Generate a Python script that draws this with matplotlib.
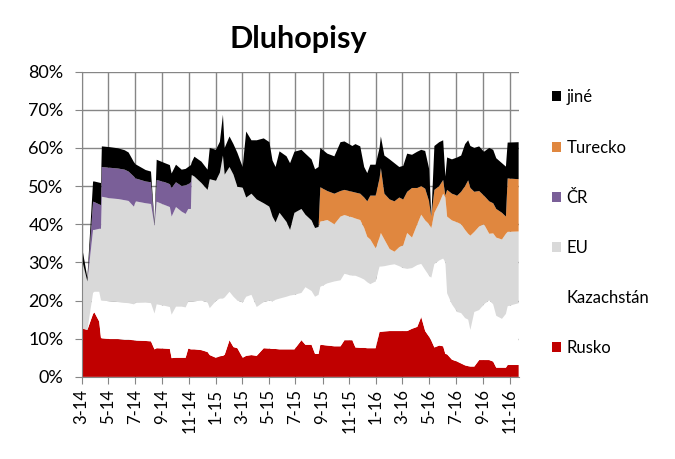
import numpy as np
import pandas as pd
import matplotlib
matplotlib.use("Agg")
import matplotlib.pyplot as plt
import matplotlib.dates as mdates
from matplotlib.patches import Patch

plt.rcParams['font.family'] = ['Lato', 'DejaVu Sans']

# shares of bond holdings by country (% of total)
dates = ['2014-03-01', '2014-03-14', '2014-03-27', '2014-03-30', '2014-04-10', '2014-04-14',
         '2014-04-16', '2014-05-04', '2014-05-23', '2014-06-07', '2014-06-16', '2014-06-28',
         '2014-07-02', '2014-07-25', '2014-08-06', '2014-08-14', '2014-08-19', '2014-09-07',
         '2014-09-18', '2014-09-22', '2014-10-02', '2014-10-15', '2014-10-24', '2014-10-30',
         '2014-11-05', '2014-11-07',
         '2014-11-13', '2014-11-29', '2014-12-13', '2014-12-18', '2015-01-01', '2015-01-10',
         '2015-01-17', '2015-01-21', '2015-02-01', '2015-02-10', '2015-02-19', '2015-03-03',
         '2015-03-11', '2015-03-23', '2015-04-04', '2015-04-20', '2015-05-03', '2015-05-10',
         '2015-05-17', '2015-05-26', '2015-06-11', '2015-06-19', '2015-06-29', '2015-07-15',
         '2015-07-24', '2015-08-07', '2015-08-15', '2015-08-23',
         '2015-08-27', '2015-09-12', '2015-09-28', '2015-10-12', '2015-10-21', '2015-11-08',
         '2015-11-15', '2015-11-26', '2015-12-05', '2015-12-12', '2015-12-19', '2015-12-31',
         '2016-01-09', '2016-01-12', '2016-01-20', '2016-02-01', '2016-02-12', '2016-02-23',
         '2016-03-03', '2016-03-12', '2016-03-23', '2016-04-04', '2016-04-13', '2016-04-22',
         '2016-05-01', '2016-05-06', '2016-05-13', '2016-05-24', '2016-06-02', '2016-06-07',
         '2016-06-11', '2016-06-22', '2016-07-04', '2016-07-13', '2016-07-22', '2016-07-29',
         '2016-08-03', '2016-08-12', '2016-08-23', '2016-09-03', '2016-09-15', '2016-09-24',
         '2016-10-01', '2016-10-14', '2016-10-23', '2016-10-27', '2016-11-21']

rusko = [12.7, 12.3, 16.5, 16.9, 14.5, 10.2, 10.1, 9.9, 9.9, 9.7, 9.7, 9.6,
         9.5, 9.4, 9.3, 7.2, 7.5, 7.4, 7.3, 4.9, 5.0, 5.0, 5.0, 7.4, 7.2, 7.2,
         7.2, 7.0, 6.5, 5.7, 5.0, 5.4, 5.5, 5.8, 9.6, 7.8, 7.5, 5.0,
         5.5, 5.7, 5.5, 7.5, 7.4, 7.3, 7.3, 7.2, 7.2, 7.2, 7.2, 9.6,
         8.4, 8.4, 6.0, 6.0,
         8.4, 8.2, 8.0, 8.0, 9.6, 9.6, 7.7, 7.6, 7.6, 7.5, 7.5, 7.5,
         11.8, 11.8, 11.9, 12.0, 12.0, 12.0, 12.0, 12.0, 12.6, 13.1, 15.7, 12.0,
         10.5, 9.5, 7.7, 8.2, 8.0, 6.0, 5.9, 4.5, 4.0, 3.5, 3.0, 2.8,
         2.7, 2.7, 4.4, 4.4, 4.4, 4.0, 2.4, 2.4, 2.4, 3.1, 3.1]

kazachstan = [0.0, 0.0, 5.5, 5.4, 7.8, 9.9, 9.9, 9.9, 9.7, 9.7, 9.6, 9.4,
              9.9, 10.1, 10.0, 9.4, 11.5, 11.2, 11.0, 11.4, 13.4, 13.4, 13.2, 12.3, 12.5, 12.5,
              12.6, 13.0, 13.0, 12.3, 14.9, 15.1, 15.0, 15.0, 12.7, 13.2, 12.5, 14.5,
              15.5, 15.8, 12.8, 12.1, 12.6, 12.5, 12.9, 13.3, 13.8, 14.1, 14.3, 12.4,
              15.1, 14.1, 15.0, 15.5,
              15.2, 16.3, 17.0, 17.3, 17.4, 16.9, 18.8, 18.4, 17.9, 17.3, 16.8, 17.5,
              17.1, 17.1, 17.1, 17.3, 17.5, 17.0, 16.5, 16.3, 15.9, 16.2, 13.9, 16.0,
              16.0, 16.5, 21.9, 22.3, 23.0, 24.0, 16.0, 14.5, 13.0, 13.2, 12.4, 12.2,
              9.6, 14.3, 13.1, 14.6, 15.7, 15.0, 13.6, 12.8, 14.1, 15.4, 16.2]

eu = [18.3, 12.7, 16.5, 16.2, 16.5, 18.7, 27.2, 27.0, 27.0, 26.9, 26.8, 25.6,
      26.6, 26.0, 26.0, 22.9, 26.9, 26.4, 26.2, 25.7, 26.1, 24.9, 24.5, 24.3, 24.3, 33.2,
      32.7, 30.8, 29.5, 33.8, 31.5, 33.0, 37.5, 32.2, 32.7, 32.0, 29.8, 30.1,
      26.0, 26.5, 28.2, 25.9, 24.6, 22.2, 20.3, 22.5, 19.6, 17.2, 21.5, 22.0,
      19.0, 18.5, 18.0, 17.8,
      17.1, 16.6, 15.0, 16.7, 15.4, 15.3, 15.0, 15.1, 13.5, 11.9, 11.7, 8.7,
      7.6, 8.8, 7.0, 4.2, 3.3, 5.0, 6.0, 9.4, 8.0, 10.7, 12.9, 13.0,
      13.5, 13.0, 13.4, 15.0, 17.0, 17.0, 20.1, 22.0, 23.5, 23.3, 23.1, 22.5,
      24.7, 21.0, 21.9, 21.0, 17.4, 18.6, 20.5, 20.8, 21.0, 19.5, 18.8]

cr = [0.0, 0.0, 7.4, 7.3, 6.4, 6.2, 7.8, 8.0, 8.0, 8.0, 7.7, 7.9,
      6.0, 5.7, 5.7, 0.3, 5.7, 6.0, 6.0, 7.5, 6.5, 6.7, 7.5, 6.5, 7.0, 0.0] + [0.0] * 75

turecko = [0.0] * 54 + [
    9.0, 7.6, 8.0, 6.7, 6.6, 6.7, 6.8, 6.9, 8.0, 9.3, 11.5, 13.8,
    15.5, 17.0, 12.0, 13.0, 13.2, 13.0, 12.0, 10.8, 13.0, 9.5, 7.5, 8.3,
    6.0, 3.0, 6.0, 4.5, 3.6, 0.5, 7.0, 7.0, 7.0, 8.5, 11.5, 14.0,
    12.5, 10.5, 9.3, 7.5, 8.5, 7.9, 7.5, 7.0, 4.5, 14.0, 13.7]

jine = [3.6, 1.0, 5.3, 5.4, 5.7, 5.8, 5.4, 5.4, 5.3, 5.1, 5.0, 3.8,
        3.7, 3.0, 2.8, 0.7, 5.3, 5.0, 5.0, 3.8, 4.6, 4.3, 4.3, 4.5, 4.5, 3.4,
        5.2, 5.6, 5.3, 8.2, 8.1, 8.1, 10.7, 7.0, 8.0, 8.0, 8.9, 5.4,
        17.3, 14.0, 15.5, 17.0, 16.9, 14.7, 14.5, 16.1, 17.2, 17.5, 16.0, 15.5,
        16.0, 16.0, 15.4, 15.7,
        10.3, 9.8, 9.8, 12.8, 12.7, 12.0, 12.7, 12.4, 8.0, 7.4, 8.1, 8.1,
        8.0, 8.3, 10.0, 10.5, 10.0, 8.0, 8.8, 10.0, 8.7, 9.5, 9.5, 9.9,
        8.5, 0.0, 11.5, 11.5, 10.4, 5.0, 8.5, 9.0, 10.0, 9.5, 11.0, 10.5,
        11.0, 11.5, 11.7, 11.5, 14.0, 14.0, 13.3, 13.0, 13.1, 9.4, 9.7]

labels = ['Rusko', 'Kazachstán', 'EU', 'ČR', 'Turecko', 'jiné']
colors = ['#C00000', '#FFFFFF', '#D9D9D9', '#7A5F98', '#E0873F', '#000000']

x = pd.to_datetime(dates)
series = [rusko, kazachstan, eu, cr, turecko, jine]

fig = plt.figure(figsize=(6.75, 4.59), dpi=100)
ax = fig.add_axes([0.121, 0.179, 0.648, 0.665])

ax.stackplot(x, *series, colors=colors, linewidth=0)

ax.set_ylim(0, 80)
ax.set_xlim(pd.Timestamp('2014-03-01'), pd.Timestamp('2016-11-22'))
ax.set_yticks(range(0, 81, 10))
ax.set_yticklabels([f'{v}%' for v in range(0, 81, 10)])
ax.xaxis.set_major_locator(mdates.MonthLocator(bymonth=[1, 3, 5, 7, 9, 11]))
ax.xaxis.set_major_formatter(plt.FuncFormatter(
    lambda v, p: f'{mdates.num2date(v).month}-{mdates.num2date(v).year % 100}'))
plt.setp(ax.get_xticklabels(), rotation=90)

ax.set_axisbelow(True)
ax.grid(True, color='#868686', linewidth=1)
for side in ['top', 'right']:
    ax.spines[side].set_visible(False)
for side in ['left', 'bottom']:
    ax.spines[side].set_color('#868686')
ax.tick_params(axis='both', colors='#868686', labelcolor='black', labelsize=12, length=5)
ax.tick_params(axis='y', labelsize=13, pad=8)

fig.suptitle('Dluhopisy', x=0.442, y=0.945, fontsize=22, fontweight='bold')

handles = [Patch(facecolor=c, edgecolor='none') for c in colors]
fig.legend(handles[::-1], labels[::-1], loc='upper left', bbox_to_anchor=(0.795, 0.838),
           frameon=False, fontsize=12, labelspacing=2.05, handlelength=0.55,
           handleheight=0.55, handletextpad=0.35)

fig.savefig('out.png', dpi=100)
